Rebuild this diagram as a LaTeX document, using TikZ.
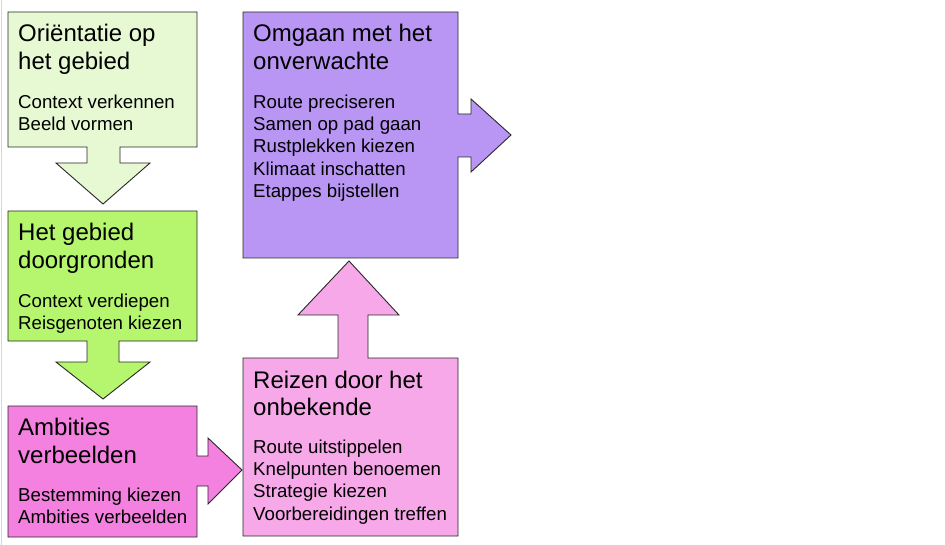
\documentclass[tikz,border=0pt]{standalone}
\usepackage{fontspec}
\setmainfont{Liberation Sans}
\definecolor{cA}{RGB}{230,249,211}
\definecolor{cB}{RGB}{181,246,110}
\definecolor{cC}{RGB}{244,128,224}
\definecolor{cD}{RGB}{185,149,244}
\definecolor{cE}{RGB}{246,168,232}
\definecolor{edge}{RGB}{40,40,40}
\tikzset{
  shapebox/.style={draw=edge, line width=0.9pt, line join=miter},
  ttl/.style={anchor=base west, inner sep=0pt, font=\fontsize{24}{27.8}\selectfont},
  bdy/.style={anchor=base west, inner sep=0pt, font=\fontsize{18.67}{22.2}\selectfont},
}
\newcommand{\tl}[1]{\parbox[t]{220pt}{\raggedright #1}}
\begin{document}
\begin{tikzpicture}[x=1pt,y=-1pt]
\useasboundingbox[fill=white] (0,0) rectangle (945,545);
\draw[draw={rgb,255:red,215;green,215;blue,215}, line width=1pt] (1.5,0) -- (1.5,545);
% box 1
\draw[shapebox, fill=cA] (8,12) -- (197,12) -- (197,147) -- (120,147) -- (120,163) -- (150,163) -- (103,204) -- (56,163) -- (87,163) -- (87,147) -- (8,147) -- cycle;
\node[ttl] (t1) at (18,42) {\tl{Oriëntatie op\\het gebied}};
\node[bdy] (b1) at (18,108.5) {\tl{Context verkennen\\Beeld vormen}};
% box 2
\draw[shapebox, fill=cB] (8,211) -- (197,211) -- (197,341) -- (119,341) -- (119,362) -- (150,362) -- (103,399) -- (56,362) -- (87,362) -- (87,341) -- (8,341) -- cycle;
\node[ttl] (t2) at (18,241) {\tl{Het gebied\\doorgronden}};
\node[bdy] (b2) at (18,307.5) {\tl{Context verdiepen\\Reisgenoten kiezen}};
% box 3
\draw[shapebox, fill=cC] (8,406) -- (197,406) -- (197,456) -- (208,456) -- (208,438) -- (242,470) -- (208,504) -- (208,486) -- (197,486) -- (197,537) -- (8,537) -- cycle;
\node[ttl] (t3) at (18,435.5) {\tl{Ambities\\verbeelden}};
\node[bdy] (b3) at (18,501.5) {\tl{Bestemming kiezen\\Ambities verbeelden}};
% box 4
\draw[shapebox, fill=cD] (243,12) -- (458,12) -- (458,114) -- (471,114) -- (471,99) -- (511,135) -- (471,172) -- (471,157) -- (458,157) -- (458,258) -- (243,258) -- cycle;
\node[ttl] (t4) at (253,42) {\tl{Omgaan met het\\onverwachte}};
\node[bdy] (b4) at (253,108.5) {\tl{Route preciseren\\Samen op pad gaan\\Rustplekken kiezen\\Klimaat inschatten\\Etappes bijstellen}};
% box 5
\draw[shapebox, fill=cE] (243,358) -- (338,358) -- (338,315) -- (298,315) -- (349,261) -- (399,315) -- (368,315) -- (368,358) -- (458,358) -- (458,536) -- (243,536) -- cycle;
\node[ttl] (t5) at (253,388) {\tl{Reizen door het\\onbekende}};
\node[bdy] (b5) at (253,453.5) {\tl{Route uitstippelen\\Knelpunten benoemen\\Strategie kiezen\\Voorbereidingen treffen}};
\end{tikzpicture}
\end{document}
